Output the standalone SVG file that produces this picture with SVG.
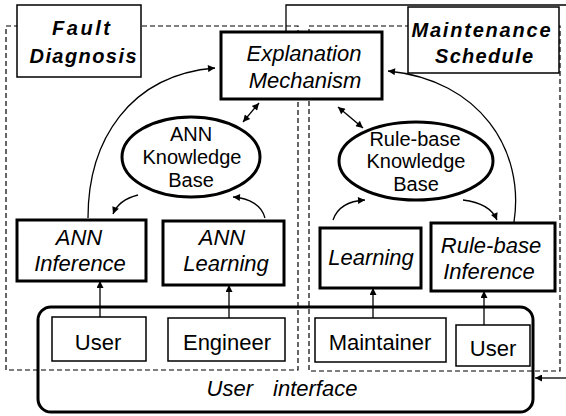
<svg xmlns="http://www.w3.org/2000/svg" width="566" height="416" viewBox="0 0 566 416">
<defs>
<style>
.dash{fill:none;stroke:#000;stroke-width:1.2;stroke-dasharray:5,3}
.thin{fill:#fff;stroke:#000;stroke-width:1.5}
.thick{fill:#fff;stroke:#000;stroke-width:3}
.ui{fill:none;stroke:#000;stroke-width:3}
.conn{fill:none;stroke:#000;stroke-width:1.3}
text{font-family:"Liberation Sans",Arial,sans-serif;font-size:22px;fill:#000;text-anchor:middle}
.it{font-style:italic}
.bi{font-style:italic;font-weight:bold;font-size:20px}
.kb{font-size:20px}
</style>
<marker id="ah" viewBox="0 0 10 10" refX="10" refY="5" markerWidth="9" markerHeight="7" markerUnits="userSpaceOnUse" orient="auto-start-reverse">
<path d="M0,0 L10,5 L0,10 z" fill="#000"/>
</marker>
</defs>

<g id="regions">
<rect class="dash" x="6" y="26" width="292" height="344"/>
<rect class="dash" x="309" y="26" width="251" height="345"/>
</g>

<g id="connectors">
<path class="conn" d="M286,31 V5 H566"/>
<path class="conn" d="M566,378 H535" marker-end="url(#ah)"/>
<path class="conn" d="M88,218 C88,140 130,75 215,68" marker-end="url(#ah)"/>
<path class="conn" d="M514,222 C525,150 480,80 388,71" marker-end="url(#ah)"/>
<path class="conn" d="M259,103 L243,122" marker-start="url(#ah)" marker-end="url(#ah)"/>
<path class="conn" d="M338,107 L363,128" marker-start="url(#ah)" marker-end="url(#ah)"/>
<path class="conn" d="M138,195 C126,198 117,204 113,214" marker-end="url(#ah)"/>
<path class="conn" d="M265,218 C262,206 250,198 233,197" marker-end="url(#ah)"/>
<path class="conn" d="M333,220 C337,208 348,201 365,200" marker-end="url(#ah)"/>
<path class="conn" d="M463,200 C480,202 492,208 497,220" marker-end="url(#ah)"/>
<path class="conn" d="M100,317 V281" marker-end="url(#ah)"/>
<path class="conn" d="M229,318 V285" marker-end="url(#ah)"/>
<path class="conn" d="M373,318 V288" marker-end="url(#ah)"/>
<path class="conn" d="M484,325 V291" marker-end="url(#ah)"/>
</g>

<g id="fault-diagnosis">
<rect class="thin" x="17" y="5" width="124" height="72"/>
<text class="bi" x="81" y="35" textLength="58" lengthAdjust="spacing">Fault</text>
<text class="bi" x="83" y="63" textLength="107" lengthAdjust="spacing">Diagnosis</text>
</g>

<g id="maintenance-schedule">
<rect class="thin" x="408" y="7" width="151" height="66"/>
<text class="bi" x="481" y="37" textLength="139" lengthAdjust="spacing">Maintenance</text>
<text class="bi" x="484" y="63" textLength="98" lengthAdjust="spacing">Schedule</text>
</g>

<g id="explanation-mechanism">
<rect class="thick" x="221" y="32" width="161" height="67"/>
<text class="it" x="304" y="61">Explanation</text>
<text class="it" x="305" y="88">Mechanism</text>
</g>

<g id="ann-kb">
<ellipse class="thick" cx="191" cy="157" rx="69" ry="40" stroke-width="2.5"/>
<text class="kb" x="191" y="141">ANN</text>
<text class="kb" x="192" y="164">Knowledge</text>
<text class="kb" x="191" y="187">Base</text>
</g>

<g id="rule-kb">
<ellipse class="thick" cx="416" cy="161" rx="77" ry="39" stroke-width="2.5"/>
<text class="kb" x="415" y="146">Rule-base</text>
<text class="kb" x="416" y="168">Knowledge</text>
<text class="kb" x="416" y="191">Base</text>
</g>

<g id="ann-inference">
<rect class="thick" x="17" y="220" width="129" height="61"/>
<text class="it" x="79" y="245">ANN</text>
<text class="it" x="80" y="271">Inference</text>
</g>

<g id="ann-learning">
<rect class="thick" x="163" y="221" width="121" height="64"/>
<text class="it" x="222" y="245">ANN</text>
<text class="it" x="226" y="271">Learning</text>
</g>

<g id="learning">
<rect class="thick" x="320" y="228" width="101" height="60"/>
<text class="it" x="371" y="265">Learning</text>
</g>

<g id="rule-inference">
<rect class="thick" x="431" y="223" width="124" height="68"/>
<text class="it" x="491" y="253">Rule-base</text>
<text class="it" x="489" y="279">Inference</text>
</g>

<g id="user-interface">
<rect class="ui" x="38" y="307" width="495" height="105" rx="13" ry="13"/>
<text class="it" x="282" y="396" word-spacing="14">User interface</text>
</g>

<g id="user-1">
<rect class="thin" x="52" y="317" width="94" height="44"/>
<text x="98" y="350">User</text>
</g>

<g id="engineer">
<rect class="thin" x="168" y="318" width="117" height="43"/>
<text x="227" y="350">Engineer</text>
</g>

<g id="maintainer">
<rect class="thin" x="315" y="318" width="131" height="44"/>
<text x="380" y="350">Maintainer</text>
</g>

<g id="user-2">
<rect class="thin" x="456" y="325" width="74" height="41"/>
<text x="493" y="356">User</text>
</g>
</svg>
